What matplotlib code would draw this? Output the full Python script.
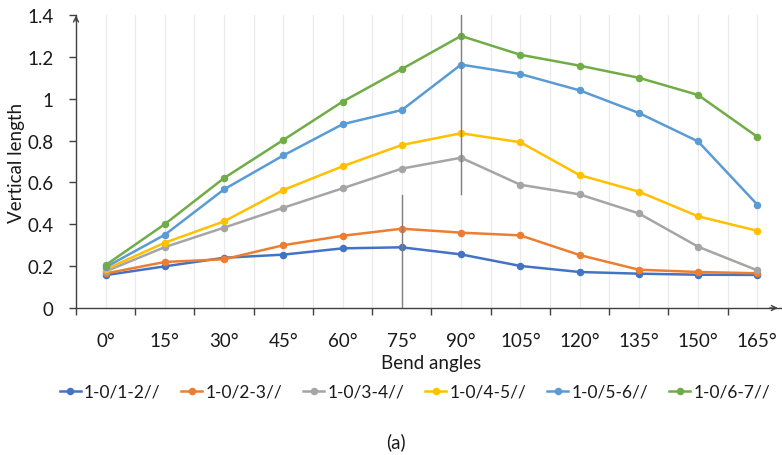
import matplotlib
matplotlib.use("Agg")
import matplotlib.pyplot as plt
import numpy as np

plt.rcParams['font.family'] = ['Lato', 'DejaVu Sans']

angles = ["0°", "15°", "30°", "45°", "60°", "75°", "90°", "105°", "120°", "135°", "150°", "165°"]
series_names = ["1-0/1-2//", "1-0/2-3//", "1-0/3-4//", "1-0/4-5//", "1-0/5-6//", "1-0/6-7//"]
s12 = [0.157, 0.199, 0.240, 0.255, 0.285, 0.290, 0.256, 0.201, 0.172, 0.164, 0.159, 0.158]
s23 = [0.165, 0.220, 0.233, 0.300, 0.345, 0.379, 0.360, 0.347, 0.253, 0.183, 0.172, 0.166]
s34 = [0.175, 0.291, 0.384, 0.479, 0.572, 0.666, 0.718, 0.589, 0.543, 0.452, 0.293, 0.180]
s45 = [0.185, 0.312, 0.414, 0.564, 0.677, 0.779, 0.835, 0.792, 0.635, 0.556, 0.438, 0.369]
s56 = [0.195, 0.350, 0.567, 0.729, 0.878, 0.946, 1.163, 1.118, 1.040, 0.932, 0.796, 0.494]
s67 = [0.205, 0.401, 0.621, 0.803, 0.986, 1.142, 1.300, 1.210, 1.158, 1.100, 1.018, 0.818]
colors = ["#4472C4", "#ED7D31", "#A5A5A5", "#FFC000", "#5B9BD5", "#70AD47"]

# reference vertical lines: (category index, y start, y end)
vline_cats = [6, 5]
vline_ranges = [(0.545, 1.4), (0.0, 0.54)]

W, H = 782, 456
fig = plt.figure(figsize=(W / 100, H / 100), dpi=100)
x0, x1, ytop, ybot = 76, 781, 16, 309
ax = fig.add_axes([x0 / W, 1 - ybot / H, (x1 - x0) / W, (ybot - ytop) / H])

x = np.arange(len(angles))
axis_col = "#404040"
text_col = "#1a1a1a"
fs = 13.5

# light vertical gridlines at centers and boundaries
for g in np.arange(0, len(angles), 0.5):
    ax.axvline(g, color="#EBEBEB", lw=0.9, zorder=0)

for name, ys, c in zip(series_names, [s12, s23, s34, s45, s56, s67], colors):
    ax.plot(x, ys, color=c, lw=1.8, marker='o', ms=4.4, label=name, zorder=3)

for ci, (ya, yb) in zip(vline_cats, vline_ranges):
    ax.plot([x[ci], x[ci]], [ya, yb], color="#7F7F7F", lw=1.0, zorder=4)

ax.set_xlim(-0.5, 11.4)
ax.set_ylim(0, 1.4)
ax.set_yticks(np.arange(0, 1.41, 0.2))
ax.set_yticklabels(["0", "0.2", "0.4", "0.6", "0.8", "1", "1.2", "1.4"])
ax.set_xticks(x)
ax.set_xticklabels(angles)
ax.set_xticks(np.arange(-0.5, 11.0, 1.0), minor=True)
ax.tick_params(axis='x', which='major', length=0, pad=17, labelsize=fs, colors=text_col)
ax.tick_params(axis='x', which='minor', length=5, width=1, color=axis_col, direction='out')
ax.tick_params(axis='y', which='major', length=5, width=1, color=axis_col, pad=11, labelsize=fs, labelcolor=text_col)

for s in ['top', 'right']:
    ax.spines[s].set_visible(False)
for s in ['left', 'bottom']:
    ax.spines[s].set_color(axis_col)
    ax.spines[s].set_linewidth(1.0)

# arrow heads
ax.annotate('', xy=(0, 1.008), xytext=(0, 0.97), xycoords='axes fraction',
            arrowprops=dict(arrowstyle='->', color=axis_col, lw=1.0, mutation_scale=9), annotation_clip=False)
ax.annotate('', xy=(0.9995, 0), xytext=(0.98, 0), xycoords='axes fraction',
            arrowprops=dict(arrowstyle='->', color=axis_col, lw=1.0, mutation_scale=9), annotation_clip=False)

fig.text(17 / W, 1 - 162.5 / H, "Vertical length", rotation=90, ha='center', va='center', fontsize=fs, color=text_col)
fig.text(431 / W, 1 - 364 / H, "Bend angles", ha='center', va='center', fontsize=fs, color=text_col)
fig.text(396 / W, 1 - 442 / H, "(a)", ha='center', va='center', fontsize=fs, color=text_col)

handles, labels = ax.get_legend_handles_labels()
fig.legend(handles, labels, loc='center', bbox_to_anchor=(415 / W, 1 - 393 / H), ncol=6, frameon=False,
           fontsize=12.5, handlelength=1.2, handletextpad=0.2, columnspacing=1.2, numpoints=1,
           labelcolor=text_col, borderpad=0)

fig.savefig("out.png", dpi=100)
